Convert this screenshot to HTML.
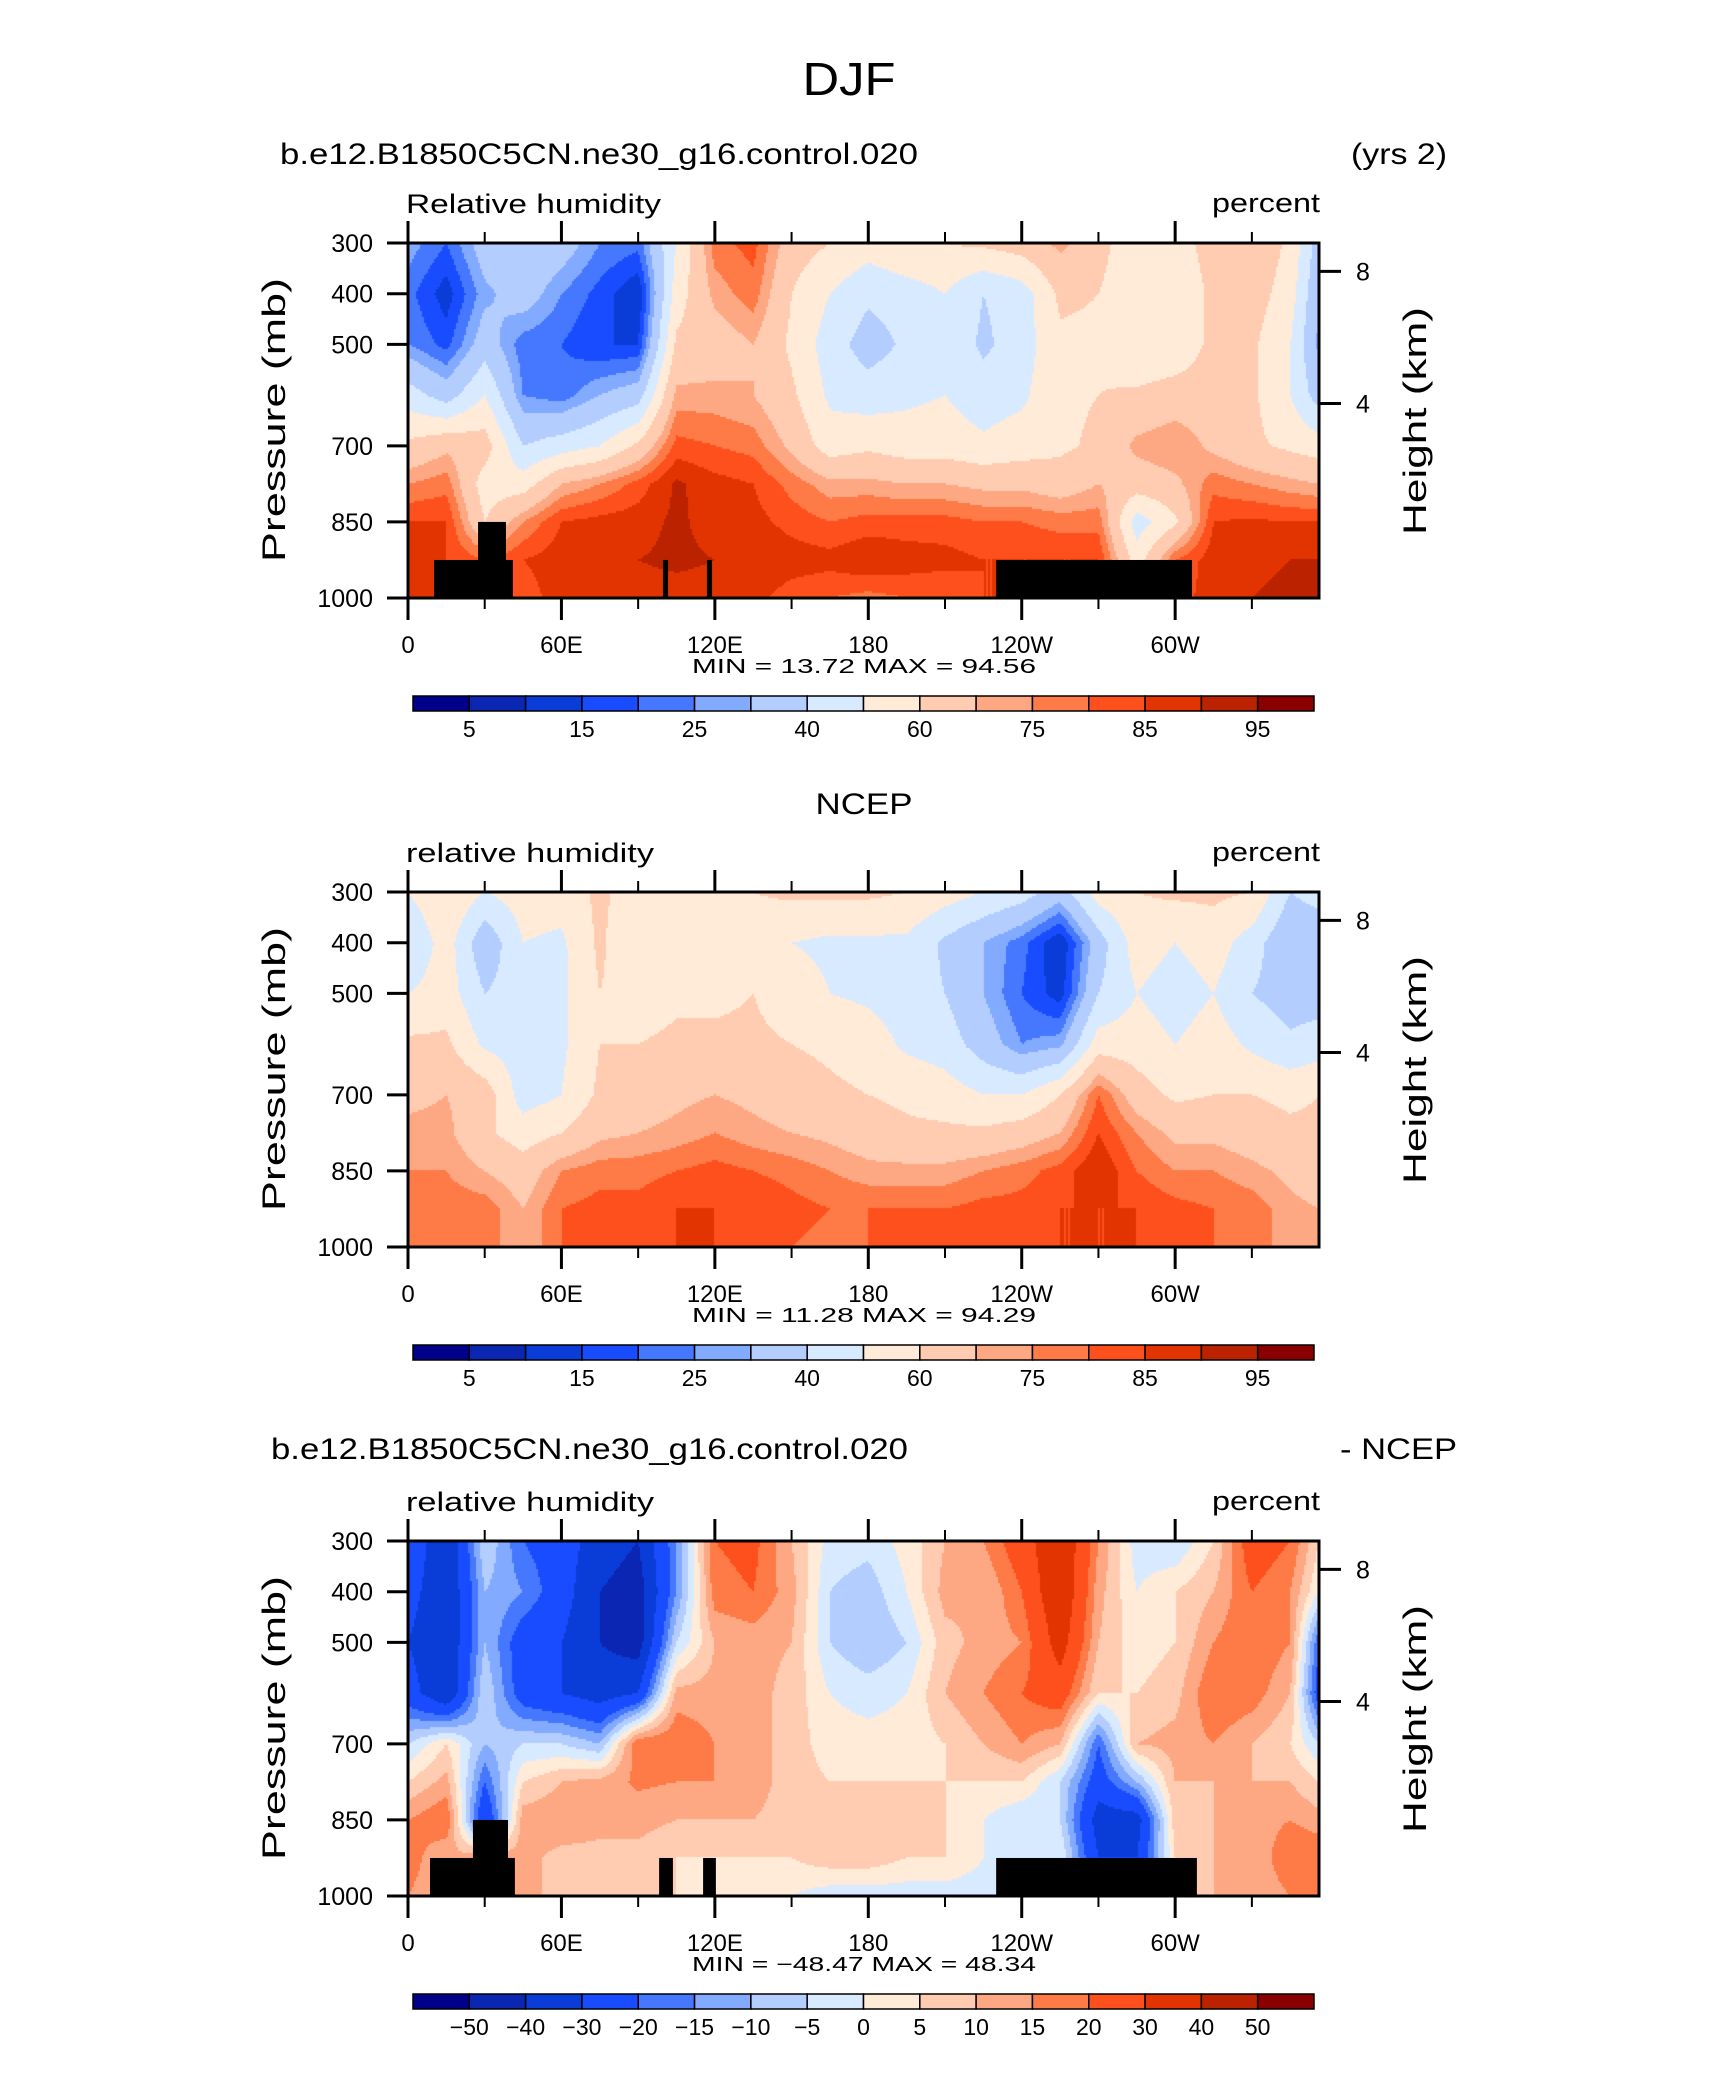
<!DOCTYPE html>
<html><head><meta charset="utf-8"><title>DJF Relative humidity</title>
<style>
html,body{margin:0;padding:0;background:#fff;}
#wrap{position:relative;width:1710px;height:2074px;overflow:hidden;background:#fff;}
canvas{position:absolute;}
svg{position:absolute;left:0;top:0;}
text{font-family:"Liberation Sans",sans-serif;fill:#000;}
</style></head>
<body>
<div id="wrap">
<canvas id="c0"></canvas>
<canvas id="c1"></canvas>
<canvas id="c2"></canvas>
<svg id="ov" width="1710" height="2074" xmlns="http://www.w3.org/2000/svg">
<text x="849" y="95" font-size="46" text-anchor="middle" textLength="93" lengthAdjust="spacingAndGlyphs">DJF</text>
</svg>
</div>
<script>
// ---- data ----
const lons = [0,15,30,45,60,75,90,105,120,135,150,165,180,195,210,225,240,255,270,285,300,315,330,345,356.25];
const levels = [300,400,500,600,700,775,850,925,1000];
const modelRH = [
[28,22,25,45,62,75,85,88,88],[20,12,18,35,68,78,85,85,85],[35,28,35,50,65,55,60,80,80],
[40,35,22,25,40,55,75,85,82],[35,25,20,22,45,70,85,88,88],[25,18,15,30,50,75,87,88,88],
[22,10,15,35,62,82,88,90,88],[50,55,62,72,82,91,91,91,88],[78,72,65,72,80,87,88,90,88],
[82,78,70,70,78,85,87,90,87],[65,60,58,62,68,78,83,88,82],[60,50,45,48,55,72,80,87,80],
[55,42,35,45,58,72,82,90,78],[60,45,42,48,55,70,82,88,80],[60,50,48,50,55,70,82,87,80],
[62,40,38,45,52,68,80,85,85],[65,45,45,48,55,68,80,85,85],[72,62,58,58,58,65,78,85,85],
[65,60,58,60,62,70,78,85,85],[50,50,50,62,72,65,45,55,60],[55,50,52,65,75,68,58,80,82],
[65,63,63,65,68,78,85,88,88],[68,65,62,62,62,75,86,88,90],[58,55,50,50,58,72,85,90,92],
[35,30,28,35,55,70,85,90,90]];
const ncepRH = [
[50,40,50,62,68,72,75,80,78],[60,55,55,62,70,72,75,78,78],[50,32,40,48,66,62,70,78,78],
[55,50,45,45,45,55,65,70,70],[55,48,48,48,50,60,75,80,80],[62,62,60,60,62,68,78,82,82],
[55,50,55,60,65,70,78,82,82],[52,50,58,62,68,72,80,85,85],[58,55,58,62,70,75,82,85,85],
[60,55,60,62,68,72,80,85,83],[62,50,55,60,65,70,78,82,80],[62,48,50,58,62,68,75,80,78],
[62,48,48,55,60,65,72,80,80],[60,48,45,48,58,62,72,80,80],[55,38,40,45,55,62,72,80,82],
[50,30,30,35,50,62,75,82,82],[45,22,20,25,50,65,78,82,82],[35,10,12,28,60,70,82,85,85],
[55,35,40,55,80,85,90,85,85],[60,55,50,55,65,75,80,85,85],[62,50,45,50,58,68,75,82,85],
[62,55,50,55,60,68,75,80,80],[60,45,40,48,60,65,72,78,78],[40,30,35,42,58,62,68,72,72],
[45,30,35,45,60,62,65,70,70]];
const diffRH = [
[-20,-25,-30,-25,-5,5,15,18,15],[-40,-40,-40,-40,5,12,20,10,10],[-5,-10,-10,-5,-10,-20,-30,15,15],
[-20,-15,-25,-25,-5,5,13,12,12],[-25,-25,-30,-30,-5,10,14,8,8],[-35,-40,-40,-35,-10,12,12,8,8],
[-40,-45,-45,-30,20,16,12,8,8],[-15,-15,-5,12,20,15,10,5,5],[20,18,10,12,15,15,10,5,0],
[22,20,12,12,12,12,10,5,0],[10,12,10,8,8,8,8,5,0],[-2,-5,-5,0,2,5,10,8,-3],
[-3,-8,-10,-2,2,5,10,8,-3],[2,0,-5,0,2,5,8,5,-3],[10,12,8,10,5,5,5,5,-3],
[15,10,12,15,10,5,0,0,-3],[25,20,15,20,15,5,-5,-3,0],[40,40,35,25,10,-5,-5,0,0],
[15,12,10,5,-20,-25,-35,-30,0],[-3,0,2,5,10,-10,-35,-30,0],[-5,5,5,8,12,10,8,5,0],
[5,10,15,20,15,10,10,10,10],[25,20,20,18,10,10,12,10,10],[20,15,15,10,5,10,15,20,15],
[5,0,-20,-25,-5,5,12,20,15]];
const rhLevels = [5,10,15,20,25,30,40,50,60,70,75,80,85,90,95];
const diffLevels = [-50,-40,-30,-20,-15,-10,-5,0,5,10,15,20,30,40,50];
const rhLabels = ["5","15","25","40","60","75","85","95"];
const diffLabels = ["\u221250","\u221240","\u221230","\u221220","\u221215","\u221210","\u22125","0","5","10","15","20","30","40","50"];
const xTickLons = [0,60,120,180,240,300];
const xTickLabels = ["0","60E","120E","180","120W","60W"];
const xMinorLons = [30,90,150,210,270,330];
const pTicks = [300,400,500,700,850,1000];
const kmTicks = [4,8];
const mask1 = [[10.2,41.0,925],[27.4,38.3,850],[99.7,101.7,925],[116.9,118.9,925],[230,306.6,925]];
const mask3 = [[8.6,41.8,925],[25.4,39.1,850],[98.2,103.6,925],[115.4,120.4,925],[230,308.5,925]];
const minmax = [["13.72","94.56"],["11.28","94.29"],["\u221248.47","48.34"]];
const colors = ["#00008a","#0a26b2","#0a3cd8","#1a4cff","#4678ff","#82aaff","#b4cdff","#d8eaff","#ffebd8","#ffcbb1","#fea883","#fe7a46","#fe501c","#e23400","#ba2200","#8a0000"];

// ---- layout ----
const X0=408,X1=1319,PH=355,LONMAX=356.25;
const panelTop=[243,892,1541];
function xS(lon){return X0+lon/LONMAX*(X1-X0);}
function yS(p,k){return panelTop[k]+(p-300)/700*PH;}
function kmToP(z){return 1013.25*Math.pow(1-2.2558e-5*z*1000,5.256);}
const ov=document.getElementById('ov');
const NS='http://www.w3.org/2000/svg';
function mk(tag,attrs,parent){const e=document.createElementNS(NS,tag);for(const k in attrs)e.setAttribute(k,attrs[k]);(parent||ov).appendChild(e);return e;}
function txt(s,attrs){const e=mk('text',attrs);e.textContent=s;return e;}

function interp(data,lon,p){
  let i=0;while(i<lons.length-2&&lon>lons[i+1])i++;
  let j=0;while(j<levels.length-2&&p>levels[j+1])j++;
  const tx=Math.min(1,Math.max(0,(lon-lons[i])/(lons[i+1]-lons[i])));
  const ty=Math.min(1,Math.max(0,(p-levels[j])/(levels[j+1]-levels[j])));
  const a=data[i][j],b=data[i+1][j],c=data[i][j+1],d=data[i+1][j+1];
  return (a*(1-tx)+b*tx)*(1-ty)+(c*(1-tx)+d*tx)*ty;
}
function cls(v,lv){let k=0;while(k<lv.length&&v>=lv[k])k++;return k;}

function drawPanel(k,data,lv){
  const cv=document.getElementById('c'+k);
  const W=X1-X0,H=PH;
  cv.width=W;cv.height=H;cv.style.left=X0+'px';cv.style.top=panelTop[k]+'px';
  const ctx=cv.getContext('2d');
  const st=2;
  for(let px=0;px<W;px+=st){
    const lon=(px+st/2)/W*LONMAX;
    for(let py=0;py<H;py+=st){
      const p=300+(py+st/2)/H*700;
      ctx.fillStyle=colors[cls(interp(data,lon,p),lv)];
      ctx.fillRect(px,py,st,st);
    }
  }
}
drawPanel(0,modelRH,rhLevels);
drawPanel(1,ncepRH,rhLevels);
drawPanel(2,diffRH,diffLevels);

const subTitles=[["b.e12.B1850C5CN.ne30_g16.control.020",280,164,638,"(yrs 2)",1447,96],null,["b.e12.B1850C5CN.ne30_g16.control.020",271,1459,637,"- NCEP",1457,117]];
const varNames=["Relative humidity","relative humidity","relative humidity"];
const masks=[mask1,null,mask3];

for(let k=0;k<3;k++){
  const T=panelTop[k],B=T+PH,dy=T-243;
  if(subTitles[k]){
    const s=subTitles[k];
    txt(s[0],{x:s[1],y:s[2],'font-size':30,textLength:s[3],lengthAdjust:'spacingAndGlyphs',});
    txt(s[4],{x:s[5],y:s[2],'font-size':30,'text-anchor':'end',textLength:s[6],lengthAdjust:'spacingAndGlyphs',});
  } else {
    txt("NCEP",{x:864,y:814,'font-size':30,'text-anchor':'middle',textLength:97,lengthAdjust:'spacingAndGlyphs',});
  }
  txt(varNames[k],{x:406,y:213+dy,'font-size':27,textLength:(k==0?255:248),lengthAdjust:'spacingAndGlyphs',});
  txt("percent",{x:1320,y:212+dy,'font-size':27,'text-anchor':'end',textLength:108,lengthAdjust:'spacingAndGlyphs',});
  if(masks[k]) masks[k].forEach(m=>{
    const r=mk('rect',{x:xS(m[0]),y:yS(m[2],k),width:xS(m[1])-xS(m[0]),height:B-yS(m[2],k),fill:'#000'});
    
    
  });
  mk('rect',{x:X0,y:T,width:X1-X0,height:PH,fill:'none',stroke:'#000','stroke-width':3,});
  xTickLons.forEach((l,i)=>{
    const x=xS(l);
    const t1=mk('line',{x1:x,y1:B,x2:x,y2:B+22,stroke:'#000','stroke-width':3});
    
    
    const t2=mk('line',{x1:x,y1:T,x2:x,y2:T-22,stroke:'#000','stroke-width':3});
    
    
    const lb=txt(xTickLabels[i],{x:x,y:653+dy,'font-size':24,'text-anchor':'middle'});
    
    
  });
  xMinorLons.forEach(l=>{
    const x=xS(l);
    const a=mk('line',{x1:x,y1:B,x2:x,y2:B+11,stroke:'#000','stroke-width':2});
    
    
    const b=mk('line',{x1:x,y1:T,x2:x,y2:T-11,stroke:'#000','stroke-width':2});
    
    
  });
  pTicks.forEach(p=>{
    const y=yS(p,k);
    const l=mk('line',{x1:X0,y1:y,x2:X0-21,y2:y,stroke:'#000','stroke-width':3});
    
    
    const lb=txt(String(p),{x:373,y:y+9,'font-size':25,'text-anchor':'end'});
    
    
  });
  kmTicks.forEach(z=>{
    const y=yS(kmToP(z),k);
    const l=mk('line',{x1:X1,y1:y,x2:X1+22,y2:y,stroke:'#000','stroke-width':3});
    
    
    const lb=txt(String(z),{x:1363,y:y+9,'font-size':25,'text-anchor':'middle'});
    
    
  });
  txt("Pressure  (mb)",{x:0,y:0,'font-size':32,'text-anchor':'middle',textLength:284,lengthAdjust:'spacingAndGlyphs',transform:'translate(285,'+(420+dy)+') rotate(-90)',});
  txt("Height  (km)",{x:0,y:0,'font-size':32,'text-anchor':'middle',textLength:228,lengthAdjust:'spacingAndGlyphs',transform:'translate(1426,'+(421+dy)+') rotate(-90)',});
  const mm=txt("MIN = "+minmax[k][0]+"   MAX = "+minmax[k][1],{x:864,y:673+dy,'font-size':20,'text-anchor':'middle',textLength:344,lengthAdjust:'spacingAndGlyphs'});
  
  
  const cbT=696+dy,cbL=413,cbR=1314,bw=(cbR-cbL)/16;
  for(let c=0;c<16;c++){
    const r=mk('rect',{x:cbL+c*bw,y:cbT,width:bw,height:15,fill:colors[c],stroke:'#000','stroke-width':1.5});
    
    
  }
  if(k<2){
    rhLabels.forEach((s,i)=>{
      const lb=txt(s,{x:cbL+(2*i+1)*bw,y:737+dy,'font-size':23,'text-anchor':'middle'});
      
      
    });
  } else {
    diffLabels.forEach((s,i)=>{
      const lb=txt(s,{x:cbL+(i+1)*bw,y:737+dy,'font-size':23,'text-anchor':'middle'});
      
      
    });
  }
}
</script>
</body></html>
